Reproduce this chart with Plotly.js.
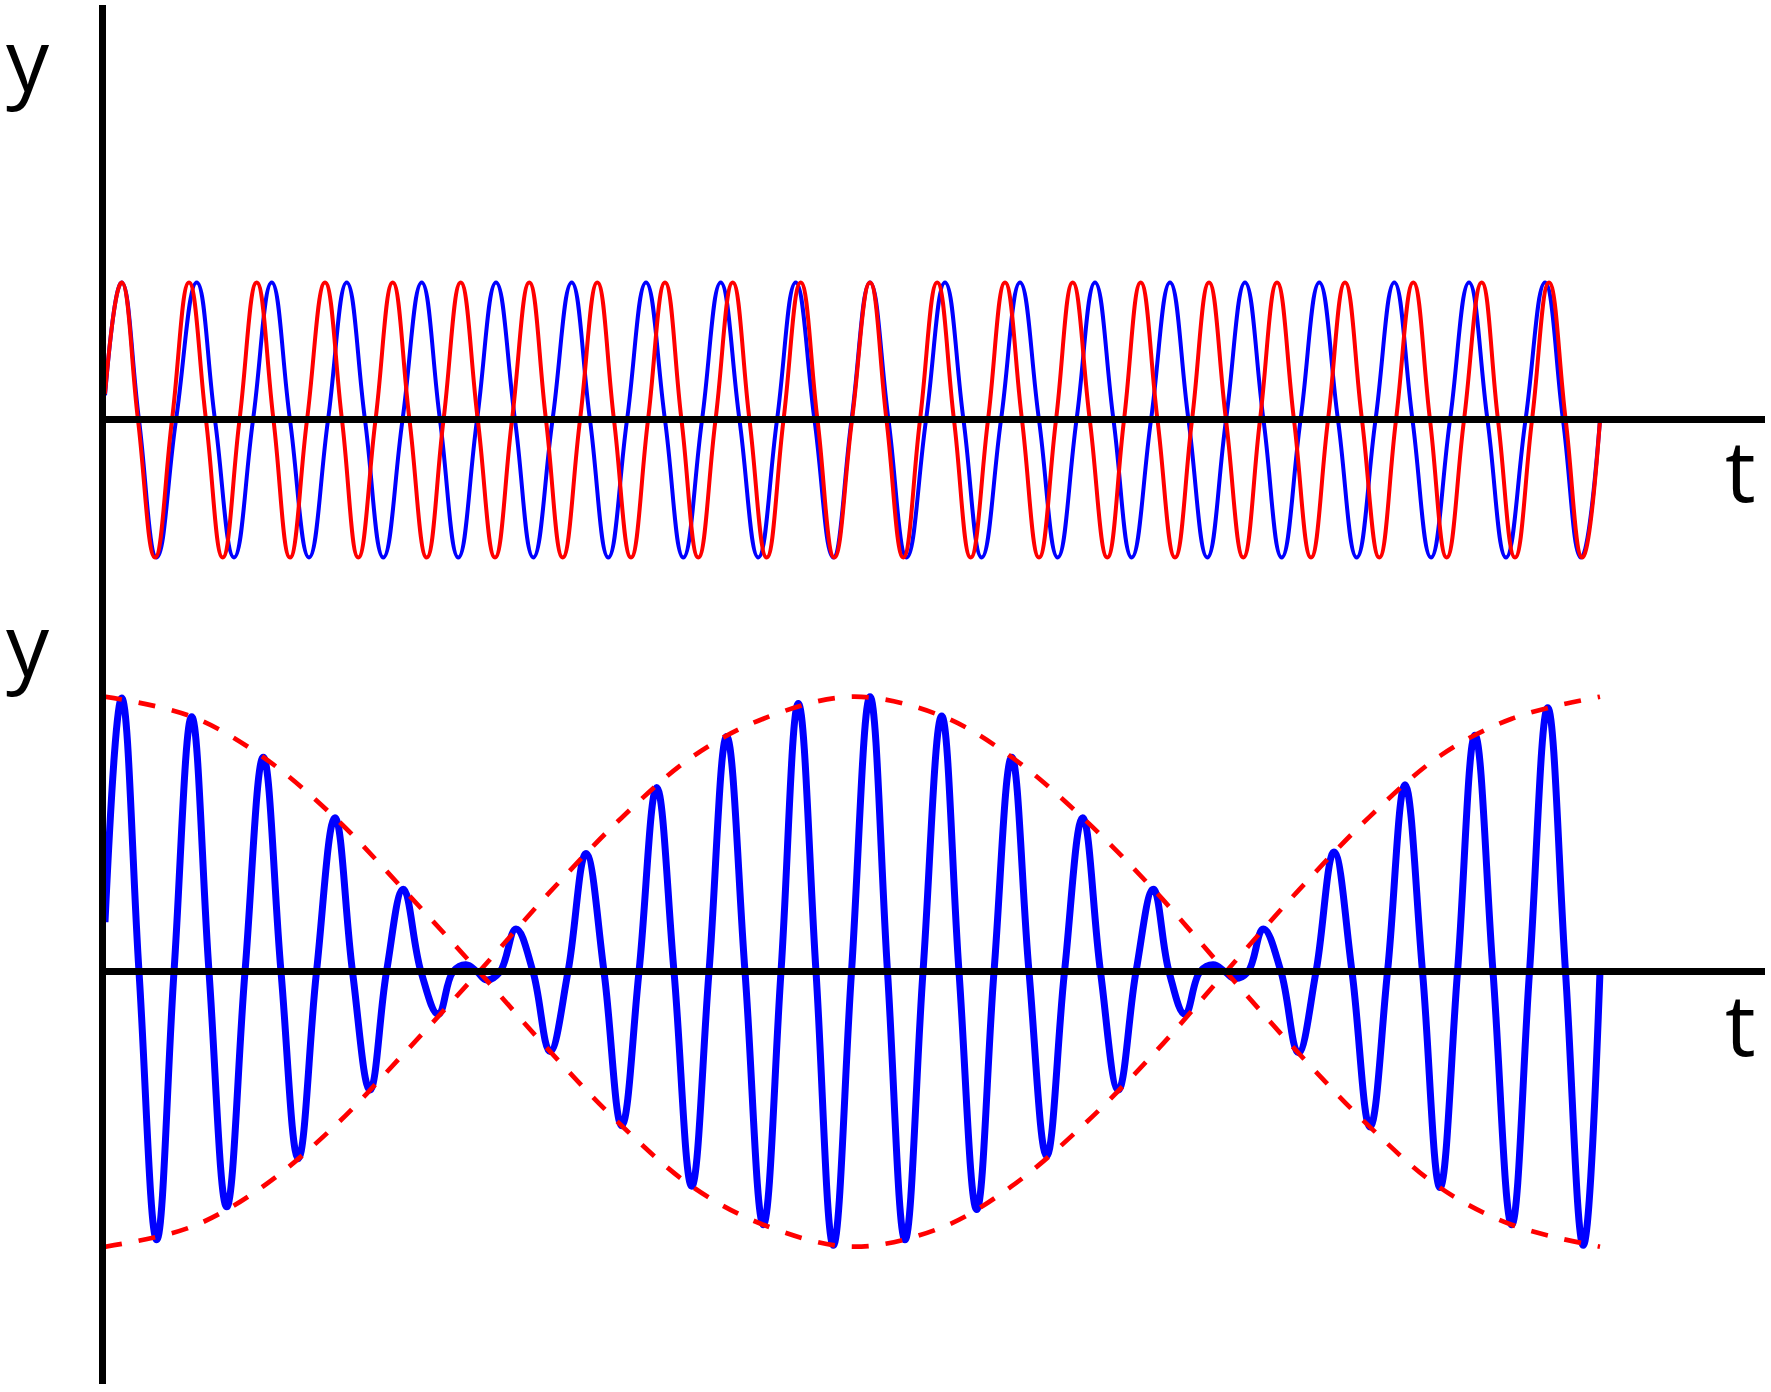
<!DOCTYPE html>
<html>
<head>
<meta charset="utf-8">
<script src="https://cdn.plot.ly/plotly-3.0.1.min.js"></script>
<style>html,body{margin:0;padding:0;background:#fff;}#chart{width:1771px;height:1392px;}</style>
</head>
<body>
<div id="chart"></div>
<script>
// ---- values (time in arbitrary units, 0 .. 1495) ----
var tStart = 0, tEnd = 1495;

// top panel, red wave (amplitude 1)
var redStartY = 0.19, redEndY = 0;
var redPeakT   = [16.7, 84, 151.7, 220, 287.7, 355.7, 424.3, 492.3, 560, 627.7, 695.7, 765, 832.2, 900, 967.7, 1035.7, 1104, 1172, 1240, 1308.3, 1376.7, 1444];
var redTroughT = [50, 117.7, 185, 253.3, 321.7, 390, 457.7, 526, 593.3, 661.7, 729.3, 798.3, 865.7, 934, 1002.3, 1070, 1138.3, 1206, 1274.3, 1341.7, 1410, 1477.3];
var redZeroT   = [33, 67, 101, 134.5, 168.5, 202, 237, 270.5, 304.5, 338.5, 372.8, 407, 441, 475, 509, 543, 576.5, 610.5, 644.5, 678.5, 712.5, 747, 781.5, 815, 849, 883, 917, 951, 984.8, 1019, 1052.5, 1087, 1121, 1155, 1189, 1223, 1257, 1291, 1325, 1359, 1393, 1427, 1460.7];

// top panel, blue wave (amplitude 1)
var blueStartY = 0.18, blueEndY = 0;
var bluePeakT   = [16.7, 91.7, 166.7, 241.7, 316.7, 391, 466.7, 541, 615.7, 690.7, 765, 840, 915, 990, 1065, 1140, 1214.3, 1289.3, 1364, 1440];
var blueTroughT = [51.7, 129, 204, 278.3, 353.3, 428.3, 503.3, 578.3, 653.3, 728.3, 801.7, 876.7, 952.7, 1026.7, 1102.3, 1176.7, 1251.7, 1326, 1401, 1476];
var blueZeroT   = [34, 71, 110, 148, 185, 223, 260, 297.5, 335, 372, 410, 447.5, 485, 522, 560, 597, 634.5, 672, 709.5, 746.5, 783.5, 821, 858.5, 896, 934, 971.5, 1008.5, 1046, 1083.5, 1121, 1158.5, 1195.5, 1233, 1270.5, 1307.5, 1345, 1382.5, 1420.5, 1458];
var waveAmp = 1;

// bottom panel, sum wave
var sumStartY = 0.36, sumEndY = 0;
var sumPeakT   = [16.7, 86.7, 158.3, 230, 298.3, 361, 411, 481, 551.7, 621.7, 693.3, 765, 836.7, 906.7, 977.7, 1048.3, 1108.3, 1158.3, 1229, 1300, 1370, 1442.7];
var sumPeakY   = [1.99, 1.855, 1.56, 1.12, 0.60, 0.05, 0.31, 0.86, 1.34, 1.71, 1.95, 2.0, 1.86, 1.56, 1.12, 0.60, 0.05, 0.31, 0.87, 1.36, 1.72, 1.92];
var sumTroughT = [51.7, 121.7, 193.3, 265, 333.3, 381.7, 445, 516.7, 586.7, 658.3, 728.3, 800, 871.7, 941.7, 1013.3, 1080, 1130, 1193.3, 1265, 1335, 1406.7, 1478.3];
var sumTroughY = [-1.95, -1.71, -1.36, -0.86, -0.31, -0.06, -0.58, -1.12, -1.56, -1.84, -1.99, -1.95, -1.73, -1.34, -0.86, -0.31, -0.05, -0.59, -1.13, -1.57, -1.84, -1.99];
var sumZeroT   = [34, 69, 104, 140, 176, 211.5, 247.5, 281.5, 316, 348, 372, 395, 428, 463, 499, 534, 569, 604, 640, 676, 711, 746.5, 782.5, 818, 854, 889, 924, 959.5, 995.5, 1031, 1064, 1095, 1120, 1143, 1176, 1211, 1247, 1282.5, 1317.5, 1352.5, 1388, 1424.5, 1460.5];

// bottom panel, dashed envelopes
var envT  = [0, 86.7, 158.3, 230, 298.3, 374, 445, 516.7, 586.7, 658.3, 747.5, 836.7, 906.7, 977.7, 1048.3, 1121, 1193.3, 1265, 1335, 1406.7, 1495];
var envUp = [2.0, 1.855, 1.56, 1.12, 0.60, 0, -0.58, -1.12, -1.56, -1.84, -2.0, -1.86, -1.56, -1.12, -0.60, 0, 0.59, 1.13, 1.57, 1.84, 2.0];
var envDn = [-2.0, -1.855, -1.56, -1.12, -0.60, 0, 0.58, 1.12, 1.56, 1.84, 2.0, 1.86, 1.56, 1.12, 0.60, 0, -0.59, -1.13, -1.57, -1.84, -2.0];

var axisLabelY = 'y', axisLabelT = 't';

// ---- build ordered point lists from the read values ----
function buildWave(startY, endY, peakT, peakY, troughT, troughY, zeroT) {
  var pts = [[tStart, startY], [tEnd, endY]];
  peakT.forEach(function (t, i) { pts.push([t, peakY[i]]); });
  troughT.forEach(function (t, i) { pts.push([t, troughY[i]]); });
  zeroT.forEach(function (t) { pts.push([t, 0]); });
  pts.sort(function (a, b) { return a[0] - b[0]; });
  return { x: pts.map(function (p) { return p[0]; }), y: pts.map(function (p) { return p[1]; }) };
}
function fill(arr, v) { return arr.map(function () { return v; }); }

var red  = buildWave(redStartY, redEndY, redPeakT, fill(redPeakT, waveAmp), redTroughT, fill(redTroughT, -waveAmp), redZeroT);
var blue = buildWave(blueStartY, blueEndY, bluePeakT, fill(bluePeakT, waveAmp), blueTroughT, fill(blueTroughT, -waveAmp), blueZeroT);
var sum  = buildWave(sumStartY, sumEndY, sumPeakT, sumPeakY, sumTroughT, sumTroughY, sumZeroT);

var traces = [
  { x: blue.x, y: blue.y, xaxis: 'x', yaxis: 'y', mode: 'lines', line: { color: '#0000ff', width: 4, shape: 'spline', smoothing: 1.3 }, hoverinfo: 'skip' },
  { x: red.x, y: red.y, xaxis: 'x', yaxis: 'y', mode: 'lines', line: { color: '#ff0000', width: 4, shape: 'spline', smoothing: 1.3 }, hoverinfo: 'skip' },
  { x: sum.x, y: sum.y, xaxis: 'x2', yaxis: 'y2', mode: 'lines', line: { color: '#0000ff', width: 7, shape: 'spline', smoothing: 1.15 }, hoverinfo: 'skip' },
  { x: envT, y: envUp, xaxis: 'x2', yaxis: 'y2', mode: 'lines', line: { color: '#ff0000', width: 4.7, shape: 'spline', smoothing: 1, dash: '17px,17px' }, hoverinfo: 'skip' },
  { x: envT, y: envDn, xaxis: 'x2', yaxis: 'y2', mode: 'lines', line: { color: '#ff0000', width: 4.7, shape: 'spline', smoothing: 1, dash: '17px,17px' }, hoverinfo: 'skip' }
];

var W = 1771, H = 1392;
function px2fy(p) { return 1 - p / H; }
var xDom = [106 / W, 1765 / W];
var xCommon = { domain: xDom, range: [1, 1660], showgrid: false, zeroline: false, showticklabels: false, ticks: '', showline: false, fixedrange: true };
var yCommon = { showgrid: false, showticklabels: false, ticks: '', zeroline: true, zerolinecolor: '#000', zerolinewidth: 7, zerolinelayer: 'above traces',
                showline: true, linecolor: '#000', linewidth: 7, side: 'left', fixedrange: true };

var lblFont = { family: 'Open Sans, DejaVu Sans, sans-serif', size: 86, color: '#000' };
var layout = {
  width: W, height: H,
  margin: { l: 0, r: 0, t: 0, b: 0, pad: 0 },
  paper_bgcolor: '#fff', plot_bgcolor: '#fff',
  showlegend: false,
  xaxis: Object.assign({}, xCommon, { anchor: 'y' }),
  xaxis2: Object.assign({}, xCommon, { anchor: 'y2' }),
  yaxis: Object.assign({}, yCommon, { anchor: 'x', domain: [px2fy(640), px2fy(5)], range: [-1.6, 3.018] }),
  yaxis2: Object.assign({}, yCommon, { anchor: 'x2', domain: [px2fy(1384), px2fy(640)], range: [-2.9985, 2.4124] }),
  annotations: [
    { text: axisLabelY, xref: 'paper', yref: 'paper', x: 4 / W, y: px2fy(-3), xanchor: 'left', yanchor: 'top', showarrow: false, font: lblFont },
    { text: axisLabelY, xref: 'paper', yref: 'paper', x: 4 / W, y: px2fy(582), xanchor: 'left', yanchor: 'top', showarrow: false, font: lblFont },
    { text: axisLabelT, xref: 'paper', yref: 'paper', x: 1740 / W, y: px2fy(408), xanchor: 'center', yanchor: 'top', showarrow: false, font: lblFont },
    { text: axisLabelT, xref: 'paper', yref: 'paper', x: 1740 / W, y: px2fy(962), xanchor: 'center', yanchor: 'top', showarrow: false, font: lblFont }
  ]
};

Plotly.newPlot('chart', traces, layout, { staticPlot: true, displayModeBar: false });
</script>
</body>
</html>
